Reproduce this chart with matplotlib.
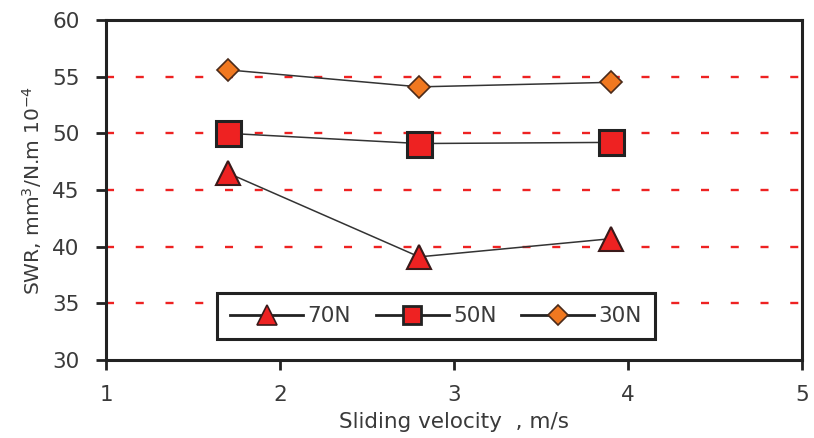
import matplotlib
matplotlib.use("Agg")
import matplotlib.pyplot as plt
from matplotlib.lines import Line2D

plt.rcParams['font.family'] = ['DejaVu Sans']

velocity = [1.7, 2.8, 3.9]
swr_70N = [46.5, 39.1, 40.7]
swr_50N = [50.0, 49.1, 49.2]
swr_30N = [55.6, 54.1, 54.5]
series_labels = ['70N', '50N', '30N']
x_ticks = [1, 2, 3, 4, 5]
y_ticks = [30, 35, 40, 45, 50, 55, 60]

fig = plt.figure(figsize=(8.14, 4.38), dpi=100)
ax = fig.add_axes([106/814, 1-360/438, (802-106)/814, (360-20)/438])

dark = '#222222'
txt = '#3a3a3a'

for y in [35, 40, 45, 50, 55]:
    ax.axhline(y, color='#ee2222', lw=1.7, dashes=(3.4, 9.2), zorder=1)

ax.plot(velocity, swr_70N, color='#333333', lw=1.1, marker='^', ms=17,
        mfc='#ee2222', mec='#3a1a1a', mew=1.5, zorder=3)
ax.plot(velocity, swr_50N, color='#333333', lw=1.1, marker='s', ms=18,
        mfc='#ee2222', mec=dark, mew=2.2, zorder=3)
ax.plot(velocity, swr_30N, color='#333333', lw=1.1, marker='D', ms=11,
        mfc='#f07820', mec='#4a2a1a', mew=1.2, zorder=3)

ax.set_xlim(1, 5)
ax.set_ylim(30, 60)
ax.set_xticks(x_ticks)
ax.set_yticks(y_ticks)
for s in ax.spines.values():
    s.set_linewidth(2.2)
    s.set_color(dark)
ax.tick_params(axis='both', direction='out', length=7, width=2, color=dark,
               labelsize=15.5, labelcolor=txt)
ax.tick_params(axis='x', pad=11)
ax.tick_params(axis='y', pad=12)

ax.set_xlabel('Sliding velocity  , m/s', fontsize=15.5, color=txt, labelpad=5)
ax.set_ylabel('SWR, mm$^3$/N.m 10$^{-4}$', fontsize=14.5, color=txt, labelpad=6)

h70 = Line2D([], [], color=dark, lw=2, marker='^', ms=14, mfc='#ee2222', mec='#3a1a1a', mew=1.2)
h50 = Line2D([], [], color=dark, lw=2, marker='s', ms=13, mfc='#ee2222', mec=dark, mew=2)
h30 = Line2D([], [], color=dark, lw=2, marker='D', ms=10, mfc='#f07820', mec='#4a2a1a', mew=1.2)
leg = ax.legend([h70, h50, h30], series_labels, ncol=3, loc='lower left',
                bbox_to_anchor=((217-106)/696, (360-339)/340, (655-217)/696, (339-286)/340),
                mode='expand', fancybox=False, frameon=True, framealpha=1, fontsize=15.5,
                handlelength=3.4, handletextpad=0.2, columnspacing=1.2,
                borderaxespad=0, borderpad=0.6)
leg.get_frame().set_edgecolor(dark)
leg.get_frame().set_linewidth(2.2)
for t in leg.get_texts():
    t.set_color(txt)

fig.savefig('out.png', dpi=100)
